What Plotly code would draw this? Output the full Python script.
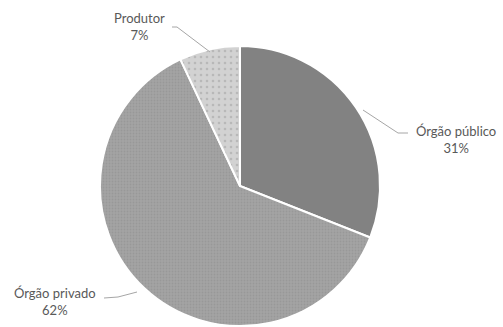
import plotly.graph_objects as go

labels = ["Órgão público", "Órgão privado", "Produtor"]
values = [31, 62, 7]
colors = ["#828282", "#a4a4a4", "#d2d2d2"]

W, H = 503, 327

def px(x, y):
    return x / W, 1 - y / H

fig = go.Figure(go.Pie(
    labels=labels, values=values, sort=False, direction="clockwise", rotation=0,
    textinfo="none", hoverinfo="label+percent",
    marker=dict(colors=colors, line=dict(color="white", width=2),
                pattern=dict(shape=["", ".", "."], bgcolor=colors,
                             fgcolor=["#828282", "#989898", "#b8b8b8"],
                             size=[4, 3, 6], solidity=[0.1, 0.3, 0.15])),
    domain=dict(x=[100 / W, 380 / W], y=[1 - 326 / H, 1 - 46 / H]),
    showlegend=False,
))

total = sum(values)
label_pos = {"Órgão público": (456, 140), "Órgão privado": (55, 301), "Produtor": (139, 27)}
for lab, v in zip(labels, values):
    x, y = px(*label_pos[lab])
    fig.add_annotation(x=x, y=y, xref="paper", yref="paper", showarrow=False,
                       text=f"{lab}<br>{round(v / total * 100)}%", xanchor="center", yanchor="middle",
                       font=dict(family="Lato, Carlito, sans-serif", size=13, color="#595959"))

leaders = [
    [(363, 110), (398, 133), (408, 133)],
    [(172, 27), (177, 27), (210, 52)],
    [(104, 298), (118, 297), (137, 292)],
]
for pts in leaders:
    path = ""
    for i, (a, b) in enumerate(pts):
        xa, ya = px(a, b)
        path += ("M" if i == 0 else "L") + f"{xa},{ya} "
    fig.add_shape(type="path", path=path.strip(), xref="paper", yref="paper",
                  line=dict(color="#a6a6a6", width=1))

fig.update_layout(width=W, height=H, margin=dict(l=0, r=0, t=0, b=0),
                  paper_bgcolor="white", plot_bgcolor="white")
fig.write_html("out.html")
